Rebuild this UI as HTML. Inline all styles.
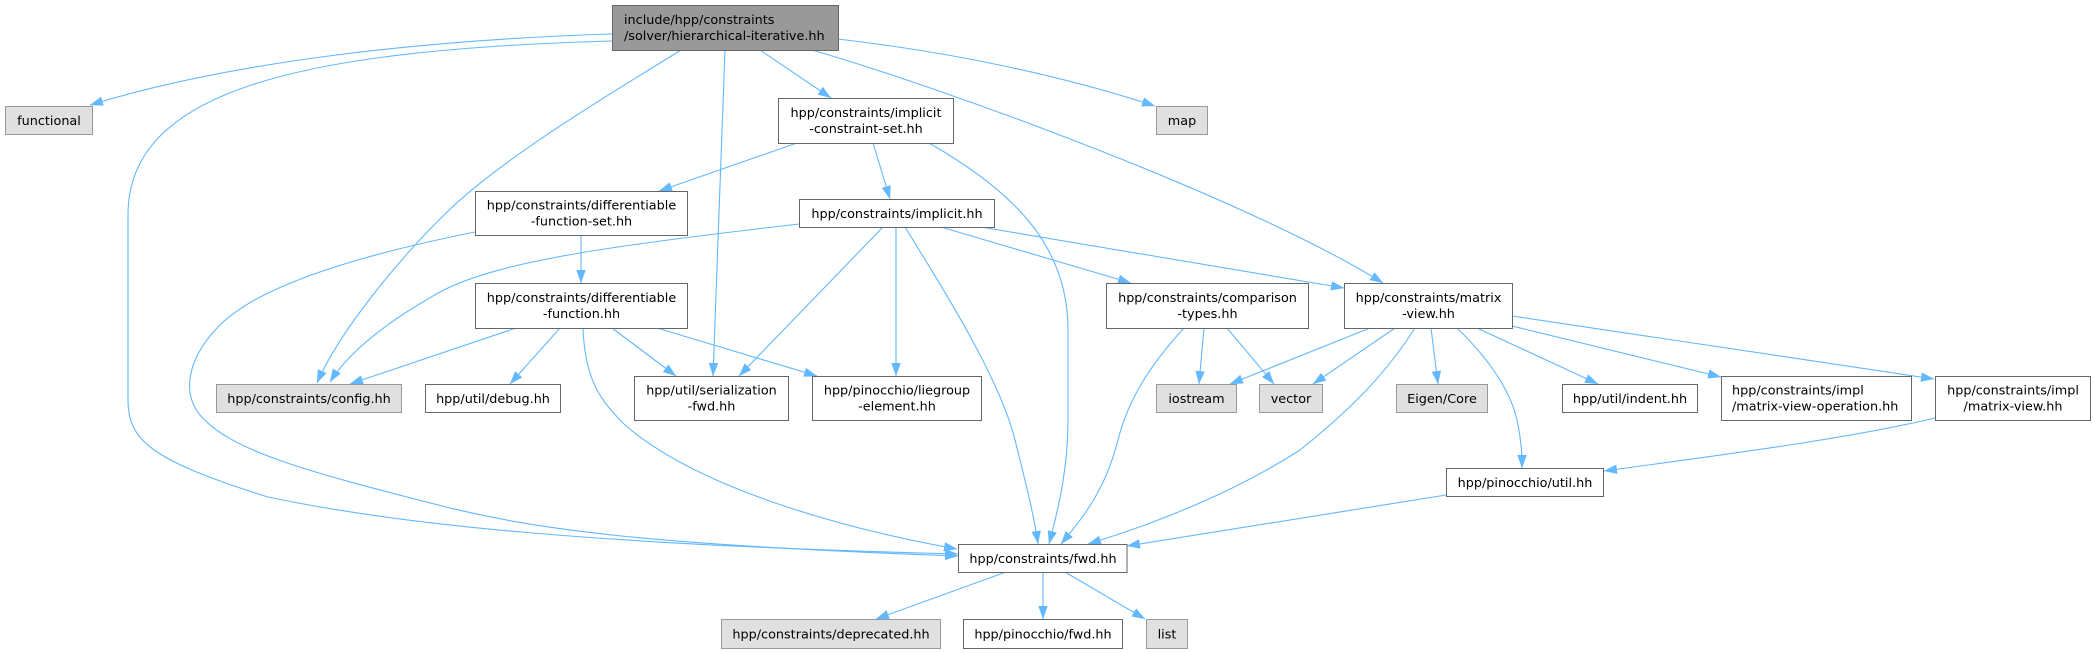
<!DOCTYPE html>
<html>
<head>
<meta charset="utf-8">
<style>
  html,body{margin:0;padding:0;background:#fff;}
  svg{display:block;}
  text{font-family:"DejaVu Sans","Liberation Sans",sans-serif;font-size:12.8px;fill:#000;}
  .e{fill:none;stroke:#63b8ff;stroke-width:1.1;marker-end:url(#a);}
  .w{fill:#fff;stroke:#666;stroke-width:1;}
  .g{fill:#e0e0e0;stroke:#999;stroke-width:1;}
  .m{fill:#999;stroke:#666;stroke-width:1;}
</style>
</head>
<body>
<svg width="2095" height="653" viewBox="0 0 2095 653" xmlns="http://www.w3.org/2000/svg">
<defs>
  <marker id="a" markerWidth="14" markerHeight="10" refX="13" refY="4.7" orient="auto" markerUnits="userSpaceOnUse">
    <path d="M0,0 L13.3,4.7 L0,9.4 z" fill="#63b8ff"/>
  </marker>
</defs>

<!-- edges -->
<!-- main -> functional -->
<path class="e" d="M612,34 C420,40 230,62 90,105"/>
<!-- main -> fwd -->
<path class="e" d="M612,41 C300,50 128,90 128,215 L128,400 C128,440 150,460 268,497 C400,525 600,545 958,554"/>
<!-- main -> config -->
<path class="e" d="M681,50 C600,100 500,160 446,213 C400,258 340,330 317,383"/>
<!-- main -> serialization -->
<path class="e" d="M725,50 L713,376"/>
<!-- main -> implicit-constraint-set -->
<path class="e" d="M760,50 L831,98"/>
<!-- main -> matrix-view -->
<path class="e" d="M812,50 C950,90 1250,200 1383,283"/>
<!-- main -> map -->
<path class="e" d="M838,39 C950,52 1060,75 1155,106"/>

<!-- ics -> dfs -->
<path class="e" d="M797,143 L659,191"/>
<!-- ics -> implicit -->
<path class="e" d="M873,143 L890,199"/>
<!-- ics -> fwd -->
<path class="e" d="M929,143 C1020,195 1068,250 1068,330 L1068,420 C1068,470 1058,510 1049,544"/>

<!-- implicit -> config -->
<path class="e" d="M799,224 C620,245 500,260 440,292 C390,320 350,350 330,382"/>
<!-- implicit -> serialization -->
<path class="e" d="M883,227 L739,376"/>
<!-- implicit -> liegroup -->
<path class="e" d="M896,227 L896,376"/>
<!-- implicit -> fwd -->
<path class="e" d="M905,227 C950,300 1000,380 1015,440 C1025,480 1034,515 1038,544"/>
<!-- implicit -> comparison -->
<path class="e" d="M941,227 L1131,283"/>
<!-- implicit -> matrix-view -->
<path class="e" d="M981,227 L1344,288"/>

<!-- dfs -> df -->
<path class="e" d="M581,235 L581,283"/>
<!-- dfs -> fwd -->
<path class="e" d="M475,232 C360,255 260,285 220,325 C190,355 180,390 200,415 C230,450 300,470 446,507 C540,530 650,545 958,556"/>

<!-- df -> config -->
<path class="e" d="M516,328 L350,384"/>
<!-- df -> debug -->
<path class="e" d="M560,328 L510,384"/>
<!-- df -> serialization -->
<path class="e" d="M612,328 L676,376"/>
<!-- df -> liegroup -->
<path class="e" d="M657,328 L817,376"/>
<!-- df -> fwd -->
<path class="e" d="M583,328 C585,380 600,400 625,425 C700,490 850,530 957,549"/>

<!-- comparison -> iostream -->
<path class="e" d="M1204,328 L1199,384"/>
<!-- comparison -> vector -->
<path class="e" d="M1227,328 L1274,384"/>
<!-- comparison -> fwd -->
<path class="e" d="M1184,328 C1150,365 1128,400 1118,440 C1105,490 1085,515 1061,544"/>

<!-- matrix-view -> iostream -->
<path class="e" d="M1370,328 L1230,384"/>
<!-- matrix-view -> vector -->
<path class="e" d="M1395,328 L1313,384"/>
<!-- matrix-view -> fwd -->
<path class="e" d="M1415,328 C1385,375 1350,410 1300,450 C1230,495 1150,525 1088,544"/>
<!-- matrix-view -> Eigen -->
<path class="e" d="M1431,328 L1438,384"/>
<!-- matrix-view -> pinocchio util -->
<path class="e" d="M1457,328 C1490,360 1510,390 1517,420 C1522,445 1522,455 1522,468"/>
<!-- matrix-view -> indent -->
<path class="e" d="M1477,328 L1598,384"/>
<!-- matrix-view -> mvo -->
<path class="e" d="M1512,326 L1721,377"/>
<!-- matrix-view -> impl matrix-view -->
<path class="e" d="M1512,316 L1934,379"/>

<!-- impl mv -> util -->
<path class="e" d="M1935,418 C1860,436 1760,450 1604,471"/>
<!-- util -> fwd -->
<path class="e" d="M1446,495 L1127,546"/>

<!-- fwd -> deprecated -->
<path class="e" d="M1006,572 L876,619"/>
<!-- fwd -> pinocchio fwd -->
<path class="e" d="M1043,572 L1043,619"/>
<!-- fwd -> list -->
<path class="e" d="M1065,572 L1145,619"/>

<!-- nodes -->
<rect class="m" x="612.5" y="5.5" width="226" height="45"/>
<text x="624" y="24">include/hpp/constraints</text>
<text x="624" y="40">/solver/hierarchical-iterative.hh</text>

<rect class="g" x="5.5" y="106.5" width="87" height="28"/>
<text x="49" y="125" text-anchor="middle">functional</text>

<rect class="g" x="1156.5" y="106.5" width="51" height="28"/>
<text x="1182" y="125" text-anchor="middle">map</text>

<rect class="w" x="778.5" y="98.5" width="175" height="45"/>
<text x="866" y="117" text-anchor="middle">hpp/constraints/implicit</text>
<text x="866" y="133" text-anchor="middle">-constraint-set.hh</text>

<rect class="w" x="475.5" y="191.5" width="212" height="44"/>
<text x="581.5" y="209.5" text-anchor="middle">hpp/constraints/differentiable</text>
<text x="581.5" y="225.5" text-anchor="middle">-function-set.hh</text>

<rect class="w" x="799.5" y="199.5" width="195" height="28"/>
<text x="897" y="218" text-anchor="middle">hpp/constraints/implicit.hh</text>

<rect class="w" x="475.5" y="283.5" width="212" height="45"/>
<text x="581.5" y="302" text-anchor="middle">hpp/constraints/differentiable</text>
<text x="581.5" y="318" text-anchor="middle">-function.hh</text>

<rect class="w" x="1106.5" y="283.5" width="202" height="45"/>
<text x="1207.5" y="302" text-anchor="middle">hpp/constraints/comparison</text>
<text x="1207.5" y="318" text-anchor="middle">-types.hh</text>

<rect class="w" x="1344.5" y="283.5" width="168" height="45"/>
<text x="1428.5" y="302" text-anchor="middle">hpp/constraints/matrix</text>
<text x="1428.5" y="318" text-anchor="middle">-view.hh</text>

<rect class="g" x="216.5" y="384.5" width="185" height="28"/>
<text x="309" y="403" text-anchor="middle">hpp/constraints/config.hh</text>

<rect class="w" x="425.5" y="384.5" width="135" height="28"/>
<text x="493" y="403" text-anchor="middle">hpp/util/debug.hh</text>

<rect class="w" x="634.5" y="376.5" width="154" height="44"/>
<text x="711.5" y="394.5" text-anchor="middle">hpp/util/serialization</text>
<text x="711.5" y="410.5" text-anchor="middle">-fwd.hh</text>

<rect class="w" x="812.5" y="376.5" width="169" height="44"/>
<text x="897" y="394.5" text-anchor="middle">hpp/pinocchio/liegroup</text>
<text x="897" y="410.5" text-anchor="middle">-element.hh</text>

<rect class="g" x="1156.5" y="384.5" width="80" height="28"/>
<text x="1196.5" y="403" text-anchor="middle">iostream</text>

<rect class="g" x="1259.5" y="384.5" width="63" height="28"/>
<text x="1291" y="403" text-anchor="middle">vector</text>

<rect class="g" x="1396.5" y="384.5" width="91" height="28"/>
<text x="1442" y="403" text-anchor="middle">Eigen/Core</text>

<rect class="w" x="1562.5" y="384.5" width="135" height="28"/>
<text x="1630" y="403" text-anchor="middle">hpp/util/indent.hh</text>

<rect class="w" x="1721.5" y="376.5" width="190" height="44"/>
<text x="1732" y="394.5">hpp/constraints/impl</text>
<text x="1732" y="410.5">/matrix-view-operation.hh</text>

<rect class="w" x="1935.5" y="376.5" width="155" height="44"/>
<text x="2013" y="394.5" text-anchor="middle">hpp/constraints/impl</text>
<text x="2013" y="410.5" text-anchor="middle">/matrix-view.hh</text>

<rect class="w" x="1446.5" y="468.5" width="157" height="28"/>
<text x="1525" y="487" text-anchor="middle">hpp/pinocchio/util.hh</text>

<rect class="w" x="958.5" y="544.5" width="168.5" height="28"/>
<text x="1043" y="563" text-anchor="middle">hpp/constraints/fwd.hh</text>

<rect class="g" x="721.5" y="619.5" width="219" height="29"/>
<text x="831" y="638.5" text-anchor="middle">hpp/constraints/deprecated.hh</text>

<rect class="w" x="963.5" y="619.5" width="159" height="29"/>
<text x="1043" y="638.5" text-anchor="middle">hpp/pinocchio/fwd.hh</text>

<rect class="g" x="1146.5" y="619.5" width="41" height="29"/>
<text x="1167" y="638.5" text-anchor="middle">list</text>
</svg>
</body>
</html>
